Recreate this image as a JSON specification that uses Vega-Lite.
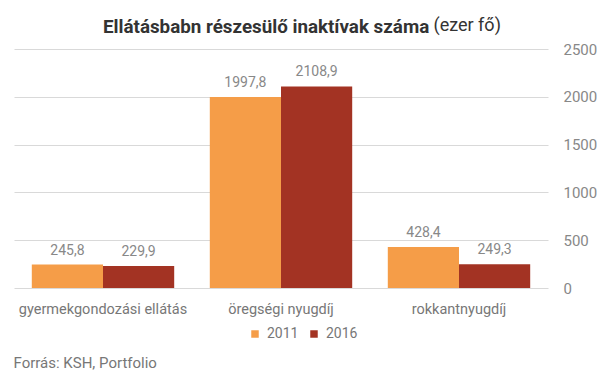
{
  "$schema": "https://vega.github.io/schema/vega-lite/v6.json",
  "width": 534,
  "height": 239,
  "autosize": "none",
  "padding": {"left": 14, "top": 49, "right": 57, "bottom": 90},
  "background": "white",
  "config": {
    "font": "Roboto",
    "view": {"stroke": null},
    "locale": {"number": {"decimal": ",", "thousands": " ", "grouping": [3], "currency": ["", " Ft"]}}
  },
  "title": {
    "text": "Ellátásbabn részesülő inaktívak száma",
    "anchor": "start",
    "frame": "group",
    "baseline": "alphabetic",
    "dx": 89,
    "dy": 36,
    "offset": 0,
    "fontSize": 18.8,
    "fontWeight": "bold",
    "color": "#333333",
    "font": "Roboto"
  },
  "data": {
    "values": [
      {"cat": "gyermekgondozási ellátás", "year": "2011", "value": 245.8},
      {"cat": "gyermekgondozási ellátás", "year": "2016", "value": 229.9},
      {"cat": "öregségi nyugdíj", "year": "2011", "value": 1997.8},
      {"cat": "öregségi nyugdíj", "year": "2016", "value": 2108.9},
      {"cat": "rokkantnyugdíj", "year": "2011", "value": 428.4},
      {"cat": "rokkantnyugdíj", "year": "2016", "value": 249.3}
    ]
  },
  "encoding": {
    "x": {
      "field": "cat",
      "type": "nominal",
      "sort": null,
      "scale": {"paddingInner": 0.2, "paddingOuter": 0.1},
      "axis": {
        "labelAngle": 0,
        "ticks": false,
        "domain": false,
        "labelPadding": 14,
        "labelFontSize": 14.5,
        "labelColor": "#777777",
        "title": "Forrás: KSH, Portfolio",
        "titleAnchor": "start",
        "titleAlign": "left",
        "titleX": -1,
        "titleY": 79,
        "titleBaseline": "alphabetic",
        "titleFontSize": 15,
        "titleFontWeight": "normal",
        "titleColor": "#777777"
      }
    },
    "xOffset": {"field": "year", "type": "nominal", "scale": {"paddingInner": 0, "paddingOuter": 0}},
    "y": {
      "field": "value",
      "type": "quantitative",
      "scale": {"domain": [0, 2500]},
      "axis": {
        "orient": "right",
        "values": [0, 500, 1000, 1500, 2000, 2500],
        "format": "d",
        "ticks": false,
        "domain": false,
        "labelAlign": "left",
        "labelPadding": 15,
        "labelFontSize": 15,
        "labelColor": "#888888",
        "gridColor": "#d9d9d9",
        "title": "(ezer fő)",
        "titleAngle": 0,
        "titleAlign": "left",
        "titleBaseline": "alphabetic",
        "titleX": -115,
        "titleY": -19,
        "titleFontSize": 18,
        "titleFontWeight": "normal",
        "titleColor": "#333333"
      }
    }
  },
  "layer": [
    {
      "mark": {"type": "bar"},
      "encoding": {
        "color": {
          "field": "year",
          "type": "nominal",
          "scale": {"domain": ["2011", "2016"], "range": ["#F59D48", "#A33323"]},
          "legend": {
            "orient": "none",
            "direction": "horizontal",
            "legendX": 234,
            "legendY": 278,
            "title": null,
            "symbolType": "square",
            "symbolSize": 56,
            "symbolStrokeWidth": 0,
            "labelFontSize": 14,
            "labelColor": "#777777",
            "columnPadding": 8,
            "labelOffset": 5
          }
        }
      }
    },
    {
      "mark": {"type": "text", "baseline": "bottom", "dy": -7, "fontSize": 14, "color": "#888888"},
      "encoding": {
        "text": {"field": "value", "type": "quantitative", "format": ".1f"}
      }
    }
  ]
}
